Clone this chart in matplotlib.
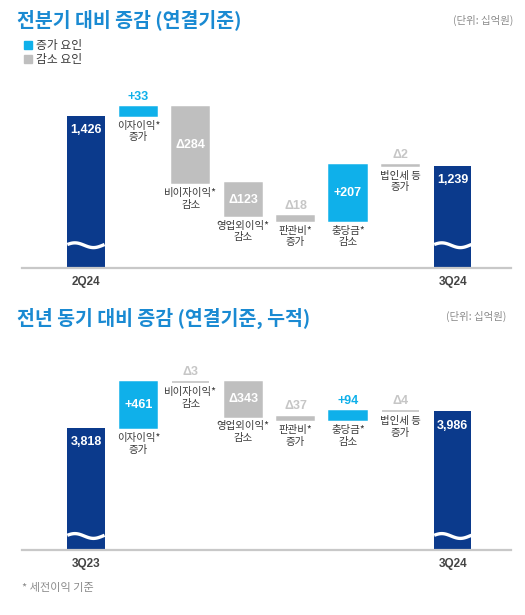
import matplotlib
matplotlib.use("Agg")
import matplotlib.pyplot as plt
from matplotlib.patches import Patch
from matplotlib.transforms import blended_transform_factory
import numpy as np

plt.rcParams['font.family'] = ['Noto Sans CJK KR', 'DejaVu Sans']
NUM_FONT = ['Liberation Sans', 'DejaVu Sans']

NAVY = "#0b3a8c"
UP = "#0fb0ea"
DOWN = "#bfbfbf"
LIGHT = "#c6c6c6"
TITLE = "#1a8ad2"
TEXT = "#3a3a3a"

# data (unit: 십억원)
step_names = ["이자이익*\n증가", "비이자이익*\n감소", "영업외이익*\n감소",
              "판관비*\n증가", "충당금*\n감소", "법인세 등\n증가"]

qoq_start = 1426
qoq_steps = [33, -284, -123, -18, 207, -2]
qoq_end = 1239
qoq_ticks = ["2Q24", "3Q24"]

yoy_start = 3818
yoy_steps = [461, -3, -343, -37, 94, -4]
yoy_end = 3986
yoy_ticks = ["3Q23", "3Q24"]

W, H = 525, 615


def waterfall(ax, start, steps, end, ticks, ylim, wave_y):
    ymin, ymax = ylim
    span = ymax - ymin
    n = len(steps) + 2
    width = 0.71

    # totals
    for x, v in [(0, start), (n - 1, end)]:
        ax.bar(x, v - ymin, bottom=ymin, width=width, color=NAVY, zorder=2)
        ax.annotate(f"{v:,}", (x, v), xytext=(0, -6), textcoords="offset points",
                    ha="center", va="top", color="white", fontsize=9,
                    fontweight="bold", family=NUM_FONT, zorder=4)
        # break mark
        trans = blended_transform_factory(ax.transData, ax.transAxes)
        xs = np.linspace(x - width / 2, x + width / 2, 40)
        ys = wave_y + 0.012 * np.sin((xs - xs[0]) / width * 2 * np.pi + 0.3)
        ax.plot(xs, ys, color="white", lw=2.4, transform=trans, zorder=3,
                solid_capstyle="butt")

    level = start
    for i, s in enumerate(steps, start=1):
        lo, hi = min(level, level + s), max(level, level + s)
        col = UP if s > 0 else DOWN
        ax.bar(i, hi - lo, bottom=lo, width=width, color=col,
               edgecolor=col, linewidth=1.1, zorder=2)
        lab = f"+{s}" if s > 0 else f"Δ{abs(s)}"
        if abs(s) / span > 0.1:
            ax.text(i, (lo + hi) / 2, lab, ha="center", va="center",
                    color="white", fontsize=9, fontweight="bold",
                    family=NUM_FONT, zorder=4)
        else:
            ax.annotate(lab, (i, hi), xytext=(0, 3), textcoords="offset points",
                        ha="center", va="bottom", fontsize=9, fontweight="bold",
                        color=UP if s > 0 else LIGHT, family=NUM_FONT)
        ax.annotate(step_names[i - 1], (i, lo), xytext=(0, -3.5),
                    textcoords="offset points", ha="center", va="top",
                    fontsize=7.5, color=TEXT, linespacing=1.2)
        level += s

    ax.set_xlim(-1.22, n - 1 + 1.11)
    ax.set_ylim(ymin, ymax)
    ax.set_xticks([0, n - 1])
    ax.set_xticklabels(ticks, fontsize=8.5, fontweight="bold", color="#444444",
                       family=NUM_FONT)
    ax.tick_params(axis="x", length=0, pad=6)
    ax.set_yticks([])
    for sp in ["top", "left", "right"]:
        ax.spines[sp].set_visible(False)
    ax.spines["bottom"].set_color("#c8c8c8")
    ax.spines["bottom"].set_linewidth(1.6)
    ax.patch.set_alpha(0)


fig = plt.figure(figsize=(W / 100, H / 100), dpi=100)

ax1 = fig.add_axes([22 / W, (H - 268) / H, 489 / W, 198 / H])
waterfall(ax1, qoq_start, qoq_steps, qoq_end, qoq_ticks, (858, 1597), 0.115)

ax2 = fig.add_axes([22 / W, (H - 550) / H, 489 / W, 200 / H])
waterfall(ax2, yoy_start, yoy_steps, yoy_end, yoy_ticks, (2599, 4599), 0.07)

fig.text(17 / W, 1 - 20 / H, "전분기 대비 증감 (연결기준)", fontsize=14,
         fontweight="bold", color=TITLE, va="center")
fig.text(513 / W, 1 - 20 / H, "(단위: 십억원)", fontsize=7.5, color="#8a8a8a",
         ha="right", va="center")
fig.text(17 / W, 1 - 318 / H, "전년 동기 대비 증감 (연결기준, 누적)", fontsize=14,
         fontweight="bold", color=TITLE, va="center")
fig.text(506 / W, 1 - 316 / H, "(단위: 십억원)", fontsize=7.5, color="#8a8a8a",
         ha="right", va="center")
fig.text(22 / W, 1 - 588 / H, "* 세전이익 기준", fontsize=8, color="#8a8a8a",
         va="center")

handles = [Patch(color=UP, label="증가 요인"), Patch(color=DOWN, label="감소 요인")]
fig.legend(handles=handles, loc="upper left", bbox_to_anchor=(24 / W, 1 - 39 / H),
           frameon=False, fontsize=8.5, handlelength=0.7, handleheight=0.7,
           handletextpad=0.35, labelspacing=0.1, borderaxespad=0, borderpad=0,
           labelcolor=TEXT)

fig.savefig("out.png", dpi=100)
